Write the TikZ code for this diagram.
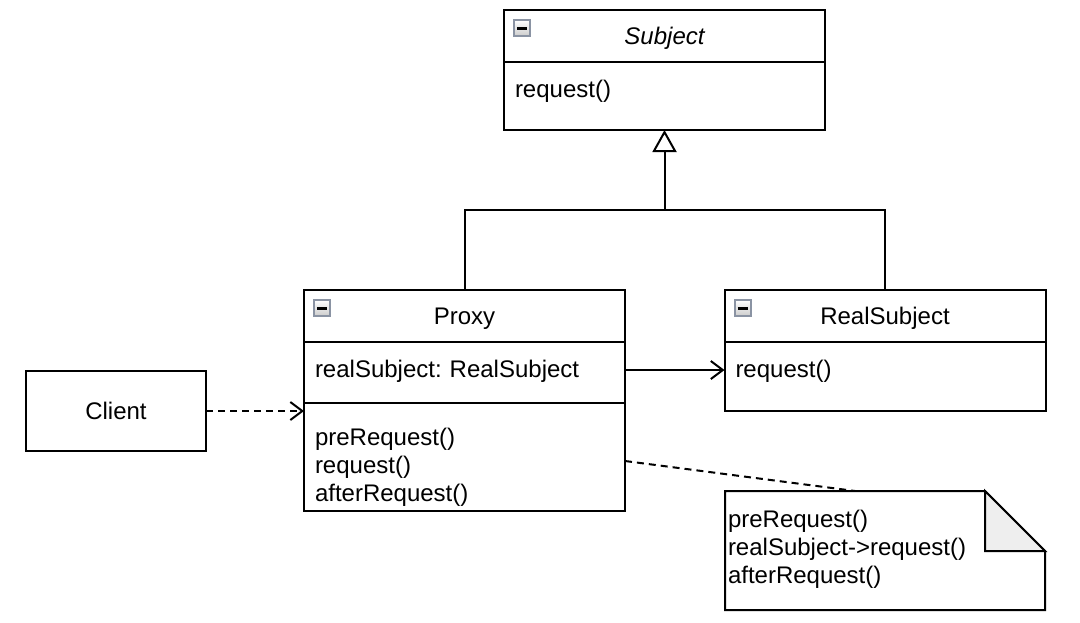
\documentclass[tikz,border=0pt]{standalone}
\usepackage{fontspec}
\setmainfont{Liberation Sans}
\usetikzlibrary{positioning,arrows.meta}
\newcommand\umlfont{\fontsize{24}{28}\selectfont\frenchspacing}
\definecolor{foldgray}{HTML}{EEEEEE}
\definecolor{iconedge}{HTML}{8A93A3}

\begin{document}
\begin{tikzpicture}[
x=1pt,y=-1pt,
umlline/.style={line width=2pt},
head/.style={
  draw,
  umlline,
  outer sep=0pt,
  inner ysep=0pt,
  minimum width=321pt,
  text height=34pt,
  text depth=18pt,
  font=\umlfont
},
compart/.style={
  draw,
  umlline,
  outer sep=0pt,
  inner ysep=0pt,
  inner xsep=11pt,
  text width=299pt,
  align=left,
  text height=35pt,
  font=\umlfont
},
plainbox/.style={
  draw,
  umlline,
  outer sep=0pt,
  minimum width=180pt,
  minimum height=80pt,
  font=\umlfont
},
notebox/.style={
  inner ysep=0pt,
  inner xsep=3pt,
  outer sep=0pt,
  text width=314pt,
  align=left,
  text height=36pt,
  text depth=83pt,
  font=\umlfont
},
collapse/.style={
  draw=iconedge,
  line width=2pt,
  top color=white,
  bottom color=black!20,
  minimum size=16pt,
  inner sep=0pt,
  path picture={\draw[black,line width=3pt] ([xshift=-5pt]path picture bounding box.center) -- ([xshift=5pt]path picture bounding box.center);}
},
dep/.style={umlline,dash pattern=on 7pt off 5pt},
barb/.style={-{Straight Barb[length=12pt,width=18pt]}},
node distance=0pt
]
\useasboundingbox (0,0) rectangle (1080,622);

\node[head,font=\umlfont\itshape] at (664.5,36) (subjhead) {Subject};
\node[compart,text depth=33pt,below=of subjhead] (subjbody) {request()};

\node[head] at (464.5,316) (proxyhead) {Proxy};
\node[compart,text depth=26pt,below=of proxyhead] (proxyattr) {realSubject: RealSubject};
\node[compart,text height=42pt,text depth=66pt,below=of proxyattr] (proxymeth)
  {preRequest()\\request()\\afterRequest()};

\node[head] at (885,316) (realhead) {RealSubject};
\node[compart,text depth=34pt,below=of realhead] (realbody) {request()};

\node[plainbox] at (116,411) (client) {Client};

\node[notebox] at (885,550.5) (note)
  {preRequest()\\realSubject->request()\\afterRequest()};

\node[collapse] at ([shift={(18pt,-18pt)}]subjhead.north west) (subjicon) {};
\node[collapse] at ([shift={(18pt,-18pt)}]proxyhead.north west) (proxyicon) {};
\node[collapse] at ([shift={(18pt,-18pt)}]realhead.north west) (realicon) {};

\draw[umlline] (note.north west) -- ([xshift=-60pt]note.north east)
  -- ([yshift=-60pt]note.north east) -- (note.south east)
  -- (note.south west) -- cycle;
\draw[umlline,fill=foldgray] ([xshift=-60pt]note.north east)
  -- ([xshift=-60pt,yshift=-60pt]note.north east)
  -- ([yshift=-60pt]note.north east) -- cycle;

\coordinate (joint) at ([yshift=-80pt]subjbody.south);
\draw[umlline] (proxyhead.north) |- (joint) -| (realhead.north);
\draw[umlline,-{Triangle[open,length=22pt,width=24pt]}] (joint) -- (subjbody.south);

\coordinate (assocstart) at ([yshift=2.5pt]proxyattr.east);
\draw[umlline,barb] (assocstart) -- (assocstart -| realbody.west);
\draw[dep,barb] (client.east) -- (client.east -| proxymeth.west);

\coordinate (linkstart) at ([yshift=-58pt]proxymeth.north east);
\coordinate (linkend) at ([xshift=-30pt]note.north);
\draw[dep] (linkstart) -- (linkend);
\end{tikzpicture}
\end{document}
